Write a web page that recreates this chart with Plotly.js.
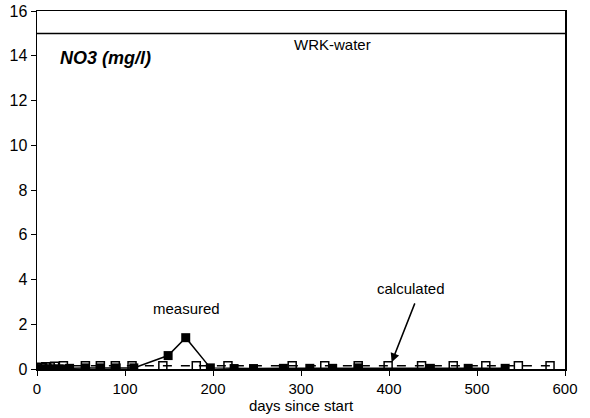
<!DOCTYPE html>
<html><head><meta charset="utf-8">
<script src="https://cdn.plot.ly/plotly-3.0.1.min.js"></script>
<style>html,body{margin:0;padding:0;background:#fff}#c{width:590px;height:418px}</style>
</head><body><div id="c"></div>
<script>
const measuredDays = [0, 4, 8, 12, 16, 20, 25, 30, 37, 55, 72, 90, 110, 149, 169, 197, 224, 246, 280, 310, 336, 365, 447, 490, 532];
const measuredNO3  = [0, 0, 0, 0, 0, 0, 0, 0, 0.03, 0.05, 0.05, 0.05, 0.05, 0.6, 1.4, 0.05, 0.02, 0.02, 0.03, 0.03, 0.03, 0.05, 0.03, 0.03, 0.03];
const calcDays = [0, 5, 10, 15, 20, 30, 55, 72, 89, 108, 143, 181, 217, 290, 327, 365, 399, 437, 473, 510, 547, 583];
const calcNO3  = [0.05, 0.08, 0.1, 0.1, 0.12, 0.15, 0.15, 0.15, 0.15, 0.15, 0.15, 0.15, 0.15, 0.15, 0.15, 0.15, 0.15, 0.15, 0.15, 0.15, 0.15, 0.15];
const wrkLevel = 15;
const xTicks = [0, 100, 200, 300, 400, 500, 600];
const yTicks = [0, 2, 4, 6, 8, 10, 12, 14, 16];

const font = 'Liberation Sans, Arial, Helvetica, sans-serif';
const traces = [
  {x: calcDays, y: calcNO3, mode: 'lines+markers', type: 'scatter',
   line: {color: '#000', width: 1.5, dash: 'dash'},
   marker: {symbol: 'square-open', size: 8, color: '#000', line: {width: 1.5}}},
  {x: measuredDays, y: measuredNO3, mode: 'lines+markers', type: 'scatter',
   line: {color: '#000', width: 1.5},
   marker: {symbol: 'square', size: 9, color: '#000'}}
];
const layout = {
  width: 590, height: 418, showlegend: false,
  paper_bgcolor: '#fff', plot_bgcolor: '#fff',
  margin: {l: 37, r: 25, t: 11, b: 49},
  font: {family: font, size: 15, color: '#000'},
  xaxis: {range: [0, 600], tickvals: xTicks, ticktext: xTicks.map(String),
    showgrid: false, zeroline: false, showline: true, mirror: true, linecolor: '#000', linewidth: 1.5,
    ticks: 'outside', ticklen: 5, tickcolor: '#000', tickfont: {size: 15},
    title: {text: 'days since start', font: {size: 15}, standoff: 0}},
  yaxis: {range: [0, 16], tickvals: yTicks, ticktext: yTicks.map(String),
    showgrid: false, zeroline: false, showline: true, mirror: true, linecolor: '#000', linewidth: 1.5,
    ticks: 'outside', ticklen: 5, tickcolor: '#000', tickfont: {size: 16}},
  shapes: [{type: 'line', xref: 'paper', x0: 0, x1: 1, yref: 'y', y0: wrkLevel, y1: wrkLevel,
    line: {color: '#000', width: 1.5}}],
  annotations: [
    {x: 0.56, xref: 'paper', y: 14.5, yref: 'y', text: 'WRK-water', showarrow: false, font: {size: 15}},
    {x: 0.04, xref: 'paper', xanchor: 'left', y: 13.9, yref: 'y', text: '<b><i>NO3 (mg/l)</i></b>', showarrow: false, font: {size: 18}},
    {x: 170, y: 2.7, text: 'measured', showarrow: false, font: {size: 15}},
    {x: 425, y: 3.6, text: 'calculated', showarrow: false, font: {size: 15}},
    {x: 403, y: 0.3, ax: 430, ay: 3.0, axref: 'x', ayref: 'y', text: '', showarrow: true,
     arrowhead: 2, arrowsize: 1.2, arrowwidth: 1.5, arrowcolor: '#000'}
  ]
};
Plotly.newPlot('c', traces, layout, {staticPlot: true});
</script></body></html>
